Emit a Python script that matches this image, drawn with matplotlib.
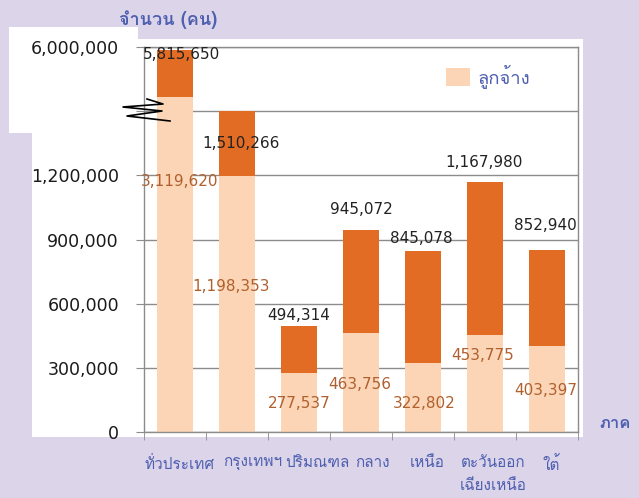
import numpy as np
import matplotlib
matplotlib.use("Agg")
import matplotlib.pyplot as plt
from matplotlib.patches import Rectangle, Patch

# Loma carries the Thai glyphs, DejaVu covers the rest
plt.rcParams["font.family"] = ["Loma", "DejaVu Sans"]

regions = ["ทั่วประเทศ", "กรุงเทพฯ", "ปริมณฑล", "กลาง", "เหนือ", "ตะวันออก\nเฉียงเหนือ", "ใต้"]
totals = [5815650, 1510266, 494314, 945072, 845078, 1167980, 852940]
employees = [3119620, 1198353, 277537, 463756, 322802, 453775, 403397]
y_ticks = [0, 300000, 600000, 900000, 1200000, 1500000, 6000000]
y_labels = ["0", "300,000", "600,000", "900,000", "1,200,000", "", "6,000,000"]

# label offsets in points (x, y) from bar top / peach top
total_offsets = [(5, -3), (3, -23), (0, 8), (0, 15), (-1, 9), (-1, 14), (-1, 17)]
emp_offsets = [(3, -61), (-4, -80), (0, -22), (-1, -37), (1, -29), (-2, -15), (-1, -32)]
# category names were typed in a text box, not quite centred under the bars
name_shift = [3, 11, 13, 8, 3, 6, 3]

bg = "#dcd5ea"
peach = "#fbd5b5"
orange = "#e36c24"
blue = "#4f5fb0"
brown = "#b0602f"

# broken axis: linear to 1.5M, then 2.3M..6M squeezed into the top band
brk_data = [0, 1500000, 2300000, 6000000]
brk_disp = [0, 1500000, 1500001, 1800000]


def fwd(v):
    return np.interp(v, brk_data, brk_disp)


def inv(d):
    return np.interp(d, brk_disp, brk_data)


fig = plt.figure(figsize=(6.39, 4.98), dpi=100, facecolor=bg)
fig.patches.append(Rectangle((32 / 639, 1 - 437 / 498), 551 / 639, 398 / 498,
                             transform=fig.transFigure, facecolor="white", edgecolor="none", zorder=0))
fig.patches.append(Rectangle((9 / 639, 1 - 133 / 498), 129 / 639, 106 / 498,
                             transform=fig.transFigure, facecolor="white", edgecolor="none", zorder=0))

ax = fig.add_axes([144 / 639, 1 - 432 / 498, 434 / 639, 385 / 498])
ax.set_zorder(2)
ax.set_facecolor("white")
ax.set_yscale("function", functions=(fwd, inv))
ax.set_ylim(0, 6000000)
ax.set_xlim(-0.5, len(regions) - 0.5)

x = np.arange(len(regions))
upper = [t - e for t, e in zip(totals, employees)]
ax.bar(x, employees, width=0.57, color=peach, zorder=2)
ax.bar(x, upper, bottom=employees, width=0.57, color=orange, zorder=2)

for i in range(len(regions)):
    ax.annotate(f"{totals[i]:,}", (x[i], totals[i]), xytext=total_offsets[i], textcoords="offset points",
                ha="center", va="center", fontsize=11, color="#222222", family="DejaVu Sans", zorder=3)
    ax.annotate(f"{employees[i]:,}", (x[i], employees[i]), xytext=emp_offsets[i], textcoords="offset points",
                ha="center", va="center", fontsize=11, color=brown, family="DejaVu Sans", zorder=3)
    ax.annotate(regions[i], (x[i], 0), xycoords=("data", "axes fraction"), xytext=(name_shift[i], -17),
                textcoords="offset points", ha="center", va="top", fontsize=11, color=blue,
                linespacing=1.85, annotation_clip=False)

ax.set_yticks(y_ticks)
ax.set_yticklabels(y_labels, family="DejaVu Sans", fontsize=12.5, color="#1a1a1a")
ax.yaxis.set_minor_locator(plt.NullLocator())
ax.grid(axis="y", color="#8c8c8c", linewidth=1, zorder=1)
ax.set_axisbelow(True)

ax.set_xticks(x)
ax.set_xticklabels([])
ax.set_xticks(np.arange(-0.5, len(regions)), minor=True)
ax.tick_params(axis="x", which="major", length=0)
ax.tick_params(axis="x", which="minor", length=6, color="#8c8c8c", direction="out")
ax.tick_params(axis="y", length=6, color="#8c8c8c", pad=12)
for s in ax.spines.values():
    s.set_color("#8c8c8c")
    s.set_linewidth(1)

ax.legend(handles=[Patch(facecolor=peach, label="ลูกจ้าง")], loc="upper left",
          bbox_to_anchor=(446 / 639, 1 - 64 / 498), bbox_transform=fig.transFigure,
          frameon=False, fontsize=13.3, labelcolor=blue, borderpad=0, borderaxespad=0,
          handlelength=1.3, handleheight=1.15, handletextpad=0.4)

# zigzag break mark on the first bar
zx = [147, 163, 123, 162, 127, 170]
zy = [99, 104, 107, 111, 116, 121]
fig.add_artist(plt.Line2D([v / 639 for v in zx], [1 - v / 498 for v in zy], color="black",
                          linewidth=1.2, zorder=5))

fig.text(168 / 639, 1 - 20 / 498, "จำนวน (คน)", ha="center", va="center", fontsize=13,
         fontweight="bold", color=blue)
fig.text(615 / 639, 1 - 423 / 498, "ภาค", ha="center", va="center", fontsize=12,
         fontweight="bold", color=blue)

fig.savefig("out.png", dpi=100, facecolor=bg)
